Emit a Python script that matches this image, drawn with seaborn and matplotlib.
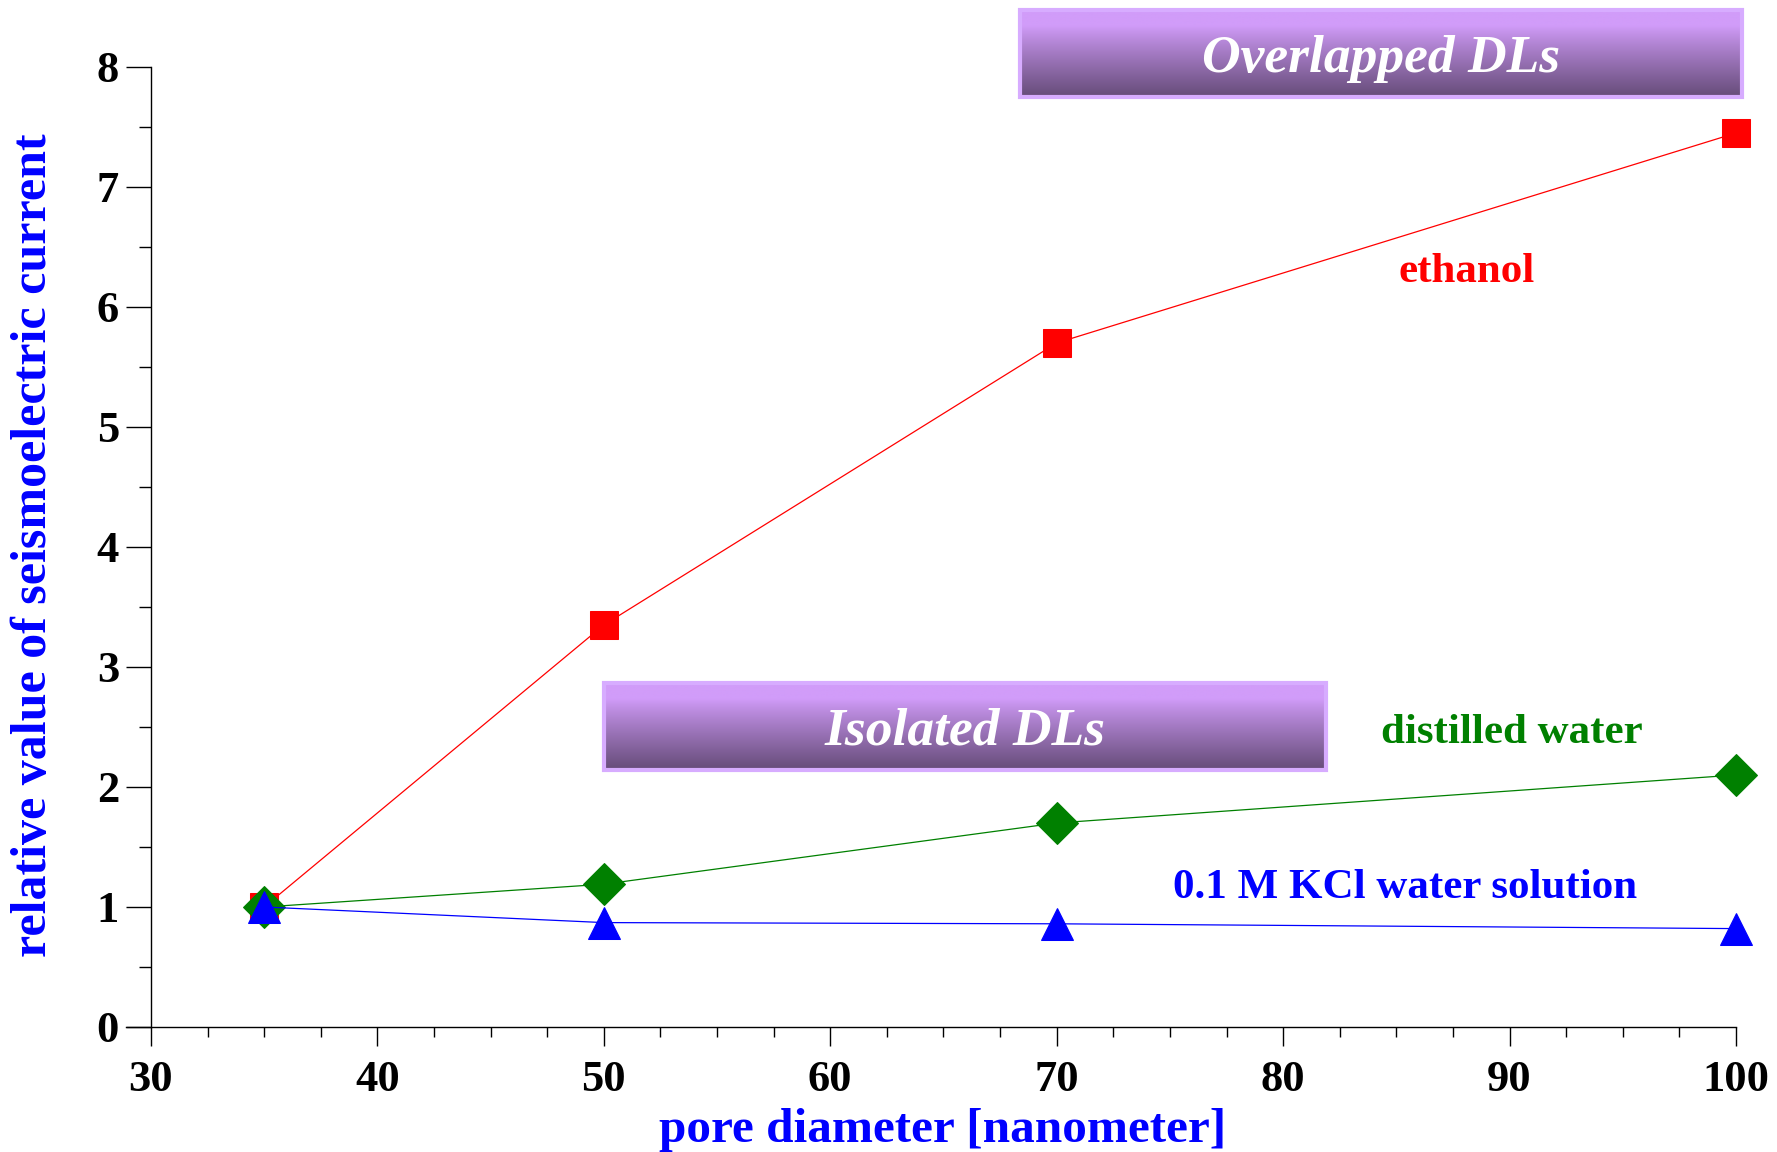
import matplotlib
matplotlib.use('Agg')
import matplotlib.pyplot as plt
import matplotlib.ticker as mticker
from matplotlib.patches import Rectangle
import seaborn as sns
import numpy as np

sns.set_style('ticks')
plt.rcParams['font.family'] = ['Liberation Serif', 'DejaVu Serif']
plt.rcParams['font.weight'] = 'bold'

pore = [35, 50, 70, 100]
ethanol = [1.0, 3.35, 5.7, 7.45]
distilled = [1.0, 1.19, 1.7, 2.1]
kcl = [1.0, 0.87, 0.86, 0.82]

series_names = ['ethanol', 'distilled water', '0.1 M KCl water solution']
series_vals = [ethanol, distilled, kcl]
colors = ['#ff0000', '#008000', '#0000ff']
markers = ['s', 'D', '^']
msizes = [20, 21, 23]

fig = plt.figure(figsize=(17.77, 11.52), dpi=100)
W, H = 1777, 1152
ax_l, ax_r, ax_b, ax_t = 126, 1736, 1027, 67
ax = fig.add_axes([ax_l / W, 1 - ax_b / H, (ax_r - ax_l) / W, (ax_b - ax_t) / H])

for vals, c, m, ms in zip(series_vals, colors, markers, msizes):
    sns.lineplot(x=pore, y=vals, ax=ax, color=c, marker=m, markersize=ms,
                 markeredgecolor=c, linewidth=0.9, clip_on=False)

# x range starts a little left of 30 so the bottom axis pokes out
ax.set_xlim(28.9, 100)
ax.set_ylim(0, 8)
ax.spines['left'].set_position(('data', 30))
ax.spines['bottom'].set_bounds(28.9, 100)
for s in ['top', 'right']:
    ax.spines[s].set_visible(False)
for s in ['left', 'bottom']:
    ax.spines[s].set_linewidth(1.0)
    ax.spines[s].set_color('black')

ax.xaxis.set_major_locator(mticker.FixedLocator([30, 40, 50, 60, 70, 80, 90, 100]))
ax.xaxis.set_minor_locator(mticker.MultipleLocator(2.5))
ax.yaxis.set_major_locator(mticker.MultipleLocator(1))
ax.yaxis.set_minor_locator(mticker.MultipleLocator(0.5))
ax.tick_params(axis='x', which='major', direction='out', length=14, width=1, pad=10, labelsize=32)
ax.tick_params(axis='x', which='minor', direction='out', length=7, width=1)
ax.tick_params(axis='y', which='major', direction='out', length=18, width=1, pad=5, labelsize=32)
ax.tick_params(axis='y', which='minor', direction='out', length=8.5, width=1)
ax.tick_params(axis='both', which='both', colors='black', labelcolor='black')
for lab in ax.get_xticklabels() + ax.get_yticklabels():
    lab.set_fontweight('bold')

ax.set_xlabel('pore diameter [nanometer]', color='#0000ff', fontsize=35.5, fontweight='bold', va='center')
ax.xaxis.set_label_coords(0.507, -0.107)
ax.set_ylabel('relative value of seismoelectric current', color='#0000ff', fontsize=36,
              fontweight='bold', va='center')
ax.yaxis.set_label_coords(-0.057, 0.502)

ax.text(88.1, 6.29, 'ethanol', color='#ff0000', fontsize=31, fontweight='bold', ha='center', va='center')
ax.text(90.1, 2.45, 'distilled water', color='#008000', fontsize=31, fontweight='bold', ha='center', va='center')
ax.text(85.4, 1.16, '0.1 M KCl water solution', color='#0000ff', fontsize=31, fontweight='bold',
        ha='center', va='center')

# gradient banners
light = np.array([209, 156, 249]) / 255
dark = np.array([102, 76, 121]) / 255
t = np.linspace(0, 1, 200)
f = np.clip((t - 0.18) / 0.82, 0, 1) ** 0.9
grad = light[None, :] + (dark - light)[None, :] * f[:, None]
grad = np.repeat(grad[:, None, :], 2, axis=1)


def banner(x0, y0, x1, y1, text):
    bx = fig.add_axes([x0 / W, 1 - y1 / H, (x1 - x0) / W, (y1 - y0) / H])
    bx.imshow(grad, aspect='auto', extent=[0, 1, 0, 1], origin='upper')
    bx.add_patch(Rectangle((0, 0), 1, 1, fill=False, edgecolor='#d7acff', linewidth=3,
                           transform=bx.transAxes, clip_on=False))
    bx.set_xlim(0, 1)
    bx.set_ylim(0, 1)
    bx.axis('off')
    bx.text(0.5, 0.44, text, color='white', fontsize=38.5, fontweight='bold', fontstyle='italic',
            ha='center', va='center', transform=bx.transAxes)


banner(1020, 10, 1742, 97, 'Overlapped DLs')
banner(604, 683, 1326, 770, 'Isolated DLs')

fig.savefig('out.png', dpi=100)
